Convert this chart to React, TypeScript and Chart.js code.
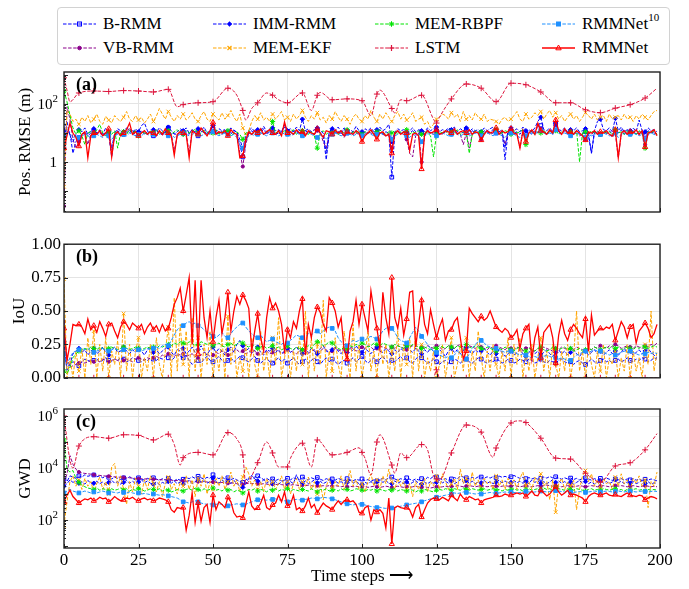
import React, { useEffect, useRef } from 'react';
import { Chart, registerables } from 'chart.js';
Chart.register(...registerables);

const FONT = "'Liberation Serif', 'Times New Roman', Times, serif";

// ---------- Panel (a): Pos. RMSE (m) ----------
const posB_RMM = [
8,15,10,2,5,7,9,11,8,10,
12,9,11,8,10,9,1.5,8,12,10,
9,11,10,13,8,10,12,9,11,10,
8,12,10,9,11,15,9,10,8,12,
10,11,9,13,10,8,11,12,9,10,
14,10,9,12,10,11,9,13,10,4,
1.5,5,10,12,9,11,10,14,9,11,
12,9,10,11,16,10,9,12,11,10,
9,12,10,11,9,13,10,8,1.2,9,
11,10,12,9,14,10,11,9,12,10,
9,11,10,12,9,10,13,9,11,10,
0.3,9,12,10,11,9,10,12,9,11,
10,9,13,10,11,12,9,10,11,13,
10,12,9,11,10,13,9,12,10,11,
9,12,10,11,13,10,9,11,1.2,10,
12,10,11,9,13,10,11,9,12,10,
18,11,10,12,9,20,11,10,12,9,
11,10,12,9,10,11,8,2,10,12,
9,11,10,12,9,11,10,13,9,11,
10,12,9,11,10,9,12,10,11,9];
const posVB_RMM = [
0.03,80,30,6,3,5,9,10,4,9,
11,9,10,8,11,9,2,8,10,9,
11,10,15,9,10,8,11,10,9,12,
10,9,11,8,12,10,9,2.5,8,11,
9,10,2,11,9,10,13,10,9,11,
18,10,11,9,12,9,11,10,8,2,
0.7,4,10,9,11,10,12,9,10,12,
11,9,10,9,20,10,11,9,12,10,
12,9,11,10,9,12,10,5,3,9,
10,11,9,11,7,10,9,11,10,9,
10,9,11,10,9,11,10,9,8,10,
3,9,11,10,9,6,2,1.5,8,10,
1,8,11,10,9,12,10,9,11,10,
9,12,10,9,4,10,3,9,11,10,
6,10,11,9,10,13,10,9,4,10,
12,9,10,3,11,8,10,11,9,18,
14,10,9,12,10,22,11,9,12,10,
11,9,10,8,9,6,10,9,11,10,
9,11,10,9,7,10,1.4,9,11,10,
9,11,10,9,10,4,9,11,10,9];
const posIMM_RMM = [
12,25,8,5,9,13,11,15,9,12,
14,10,13,9,15,11,3,10,14,12,
11,15,12,10,14,11,18,22,12,10,
13,11,15,12,10,16,12,9,11,14,
12,15,10,13,11,14,12,16,10,12,
18,11,14,12,13,10,15,12,11,6,
3,8,12,15,11,13,12,17,11,14,
15,12,13,11,20,12,14,11,16,12,
30,12,14,11,13,15,12,10,2,11,
14,12,16,11,15,12,13,11,17,12,
11,14,12,15,11,13,16,12,14,20,
5,11,14,12,13,11,12,15,11,13,
12,11,15,12,14,16,11,13,12,15,
13,16,11,14,12,15,11,14,12,13,
11,15,12,14,16,12,11,13,3,12,
15,12,14,11,16,12,13,11,15,25,
35,13,12,15,11,22,13,12,15,11,
13,12,15,11,12,14,10,2,12,25,
30,13,12,15,11,32,12,16,11,13,
12,15,11,28,12,11,15,12,13,11];
const posMEM_EKF = [
0.14,60,45,25,30,20,35,25,40,22,
30,45,25,20,38,28,22,40,30,25,
35,55,30,25,40,28,35,22,30,45,
25,38,70,45,30,55,35,25,40,30,
45,28,35,50,30,25,40,55,30,25,
45,35,28,50,30,40,60,35,25,45,
15,8,12,25,40,30,50,28,35,25,
45,30,40,55,28,35,25,45,30,40,
60,35,25,40,30,50,28,35,22,40,
30,55,35,25,40,30,20,35,45,30,
25,40,30,60,35,25,45,30,50,35,
25,40,55,30,45,28,35,50,25,30,
35,20,25,15,20,30,35,45,40,30,
50,35,45,25,55,30,40,28,50,35,
30,45,25,30,28,25,20,30,35,25,
30,40,55,30,25,45,30,35,50,40,
55,30,45,60,35,50,30,40,25,35,
45,30,40,25,35,50,40,30,45,28,
35,40,25,45,30,35,40,28,45,30,
35,25,40,30,45,35,28,40,55,60];
const posMEM_RBPF = [
280,120,40,15,9,12,8,4,10,11,
9,13,20,10,8,11,9,12,3,10,
11,9,13,10,12,8,11,10,9,12,
10,13,9,11,10,12,9,11,13,10,
9,12,10,11,14,9,10,12,11,9,
10,13,9,11,10,12,8,10,11,9,
6,10,12,9,11,10,13,9,11,12,
25,10,11,9,12,10,11,13,9,10,
12,10,9,11,8,3,10,12,9,11,
10,12,9,11,10,13,9,11,10,12,
9,11,10,12,9,11,13,10,9,11,
10,12,9,11,10,13,9,11,10,12,
9,11,10,8,1.5,9,11,10,12,9,
11,10,13,9,11,10,2,9,12,10,
11,9,12,10,11,13,9,10,12,11,
9,12,10,11,13,4,10,12,9,11,
10,13,9,11,10,12,9,11,13,10,
11,9,12,1,10,11,9,12,10,11,
9,12,10,11,9,13,10,11,9,12,
10,11,9,12,10,3,11,10,12,9];
const posLSTM_x = [0,1,2,5,10,15,20,25,30,35,38,40,45,50,55,58,60,61,63,65,68,70,72,75,80,83,85,86,90,95,100,103,105,106,110,111,113,115,120,124,125,126,130,135,140,145,150,155,160,165,170,175,180,185,190,195,199];
const posLSTM_y = [800,300,120,240,280,270,290,280,260,320,80,95,110,120,350,200,60,28,70,110,240,200,140,110,240,60,200,250,140,150,130,40,220,300,70,49,140,130,200,30,22,35,150,490,350,120,520,460,260,110,110,63,50,72,95,160,350];
const posRMMNet10 = [
8,12,9,7,8,7,8,9,8,7,
8,9,8,7,9,8,6,8,9,8,
9,8,10,9,8,9,8,10,9,8,
9,8,9,10,9,8,9,7,8,9,
10,9,8,9,10,9,8,9,10,9,
11,9,8,9,10,9,8,9,7,4,
3,6,8,9,8,9,10,9,8,9,
10,9,8,9,10,9,8,9,10,9,
8,9,10,9,8,7,9,8,6,8,
9,10,9,8,9,10,9,8,9,10,
8,9,10,9,8,9,10,9,8,9,
6,8,9,10,9,8,7,9,8,9,
5,8,9,10,9,8,9,10,9,8,
9,10,9,8,9,10,8,9,10,9,
8,9,10,9,8,10,9,8,7,9,
10,9,8,7,9,8,9,10,9,11,
12,10,9,10,9,13,10,9,10,9,
8,9,10,9,8,7,9,8,9,10,
9,10,9,8,9,10,7,9,10,9,
9,10,9,8,9,6,9,10,9,8];
const posRMMNet = [
3,8,22,10,7,3.5,9,11,1.4,8,
10,9,12,8,10,14,1.5,9,11,8,
10,13,22,9,11,8,10,12,9,11,
10,8,12,9,14,10,8,1.7,9,11,
10,9,1.4,12,10,9,15,11,8,12,
23,9,11,10,12,8,13,10,9,1.4,
1.6,6,11,9,12,10,14,9,11,13,
10,9,12,8,24,10,11,9,13,10,
11,8,12,10,9,14,10,7,12,11,
9,13,10,12,8,11,10,9,12,10,
5,8,10,13,9,6,10,11,8,9,
2,10,12,9,11,10,2.5,9,10,8,
0.57,9,12,10,11,13,9,10,12,11,
10,14,9,11,12,10,13,9,11,10,
5.7,9,12,10,11,15,9,12,10,11,
14,10,9,3,12,5,10,13,9,22,
12,11,9,13,10,28,12,9,14,10,
11,9,12,10,8,5.7,11,10,12,9,
11,10,12,9,8,13,1.4,10,12,9,
11,10,13,9,12,3.3,10,11,13,8];

// ---------- Panel (b): IoU ----------
const iouB_RMM = [
.18,.08,.10,.12,.11,.09,.12,.14,.13,.12,
.13,.14,.12,.13,.15,.13,.12,.14,.13,.15,
.14,.12,.13,.15,.14,.13,.12,.14,.13,.15,
.14,.13,.15,.14,.16,.15,.13,.15,.17,.16,
.15,.17,.13,.10,.12,.13,.11,.14,.16,.13,
.12,.14,.16,.13,.11,.13,.15,.12,.14,.16,
.15,.13,.12,.14,.16,.13,.11,.13,.15,.12,
.11,.13,.15,.12,.14,.11,.13,.15,.12,.10,
.12,.14,.11,.13,.15,.12,.10,.13,.15,.12,
.14,.12,.10,.12,.13,.11,.13,.15,.12,.14,
.16,.13,.11,.13,.15,.12,.14,.16,.13,.11,
.13,.12,.14,.16,.13,.15,.12,.11,.14,.16,
.15,.13,.11,.12,.14,.12,.10,.12,.13,.11,
.12,.14,.13,.11,.13,.14,.12,.11,.13,.15,
.14,.12,.11,.13,.12,.14,.13,.11,.12,.14,
.13,.11,.12,.14,.13,.12,.14,.13,.11,.12,
.14,.12,.11,.13,.12,.11,.13,.14,.12,.11,
.12,.10,.12,.13,.11,.10,.12,.14,.12,.11,
.13,.14,.12,.13,.11,.13,.14,.12,.13,.15,
.13,.12,.14,.13,.15,.14,.12,.13,.15,.14];
const iouVB_RMM = [
.42,.15,.08,.09,.10,.11,.12,.11,.12,.13,
.12,.13,.12,.14,.13,.12,.13,.14,.13,.12,
.13,.14,.13,.12,.14,.15,.14,.13,.15,.14,
.15,.16,.15,.17,.16,.18,.17,.16,.18,.17,
.18,.16,.17,.18,.16,.15,.17,.19,.18,.16,
.17,.19,.18,.20,.19,.17,.18,.20,.21,.19,
.20,.18,.19,.21,.20,.18,.17,.19,.20,.18,
.19,.21,.20,.18,.19,.21,.20,.19,.18,.20,
.21,.19,.18,.20,.21,.19,.20,.22,.21,.19,
.20,.22,.21,.20,.22,.21,.23,.22,.20,.21,
.23,.22,.24,.23,.21,.22,.24,.23,.22,.21,
.23,.22,.24,.23,.22,.21,.23,.24,.22,.21,
.23,.22,.24,.23,.22,.24,.23,.21,.22,.24,
.23,.22,.24,.25,.23,.22,.24,.23,.22,.24,
.23,.22,.21,.23,.22,.24,.23,.22,.21,.23,
.22,.21,.23,.22,.20,.22,.23,.21,.20,.22,
.21,.23,.22,.21,.20,.22,.21,.23,.22,.21,
.22,.21,.23,.22,.21,.20,.22,.21,.23,.22,
.24,.23,.22,.24,.23,.25,.24,.22,.23,.24,
.23,.22,.24,.23,.22,.24,.23,.25,.24,.26];
const iouIMM_RMM = [
.27,.05,.10,.18,.20,.22,.19,.21,.17,.20,
.22,.18,.20,.23,.19,.17,.21,.23,.19,.20,
.23,.20,.18,.21,.19,.22,.20,.17,.21,.23,
.19,.21,.18,.20,.22,.23,.19,.17,.21,.20,
.22,.18,.20,.23,.19,.21,.24,.20,.17,.21,
.23,.19,.22,.20,.17,.21,.23,.19,.25,.28,
.24,.20,.22,.18,.21,.23,.19,.17,.21,.20,
.22,.19,.21,.18,.20,.22,.19,.21,.23,.20,
.18,.21,.19,.22,.20,.18,.22,.24,.20,.19,
.21,.23,.20,.18,.21,.19,.22,.20,.24,.21,
.19,.22,.20,.18,.21,.23,.20,.19,.22,.20,
.18,.21,.19,.22,.20,.24,.21,.19,.22,.20,
.18,.21,.19,.22,.20,.17,.21,.19,.16,.20,
.22,.19,.21,.18,.20,.23,.20,.18,.21,.19,
.20,.22,.19,.17,.20,.18,.21,.19,.16,.18,
.20,.17,.19,.21,.18,.16,.19,.21,.18,.20,
.17,.19,.21,.18,.16,.19,.21,.18,.20,.17,
.19,.21,.18,.16,.19,.20,.17,.19,.21,.18,
.20,.17,.19,.21,.18,.20,.17,.19,.22,.19,
.20,.17,.19,.21,.18,.20,.22,.19,.17,.15];
const iouMEM_EKF = [
.74,0,.15,0,.20,.05,.22,0,.30,.10,
.35,0,.25,.05,.30,0,.20,.10,.28,0,
.48,.05,.25,0,.20,.30,0,.15,.05,.25,
0,.30,.10,0,.20,.38,0,.60,.05,.40,
.10,.35,0,.45,.05,.30,0,.25,.10,.35,
0,.20,.05,.30,0,.46,.10,.30,0,.15,
.05,.25,0,.30,.10,0,.35,.05,.20,0,
.30,.10,.45,0,.15,.25,0,.20,.05,.30,
.10,.50,0,.30,.05,.25,.10,.58,0,.20,
.05,.30,.10,0,.35,.15,0,.40,.05,.25,
0,.15,.35,.05,.20,0,.30,.10,.25,0,
.20,.05,.35,0,.25,.10,.30,0,.35,.05,
.25,0,.15,.05,.20,0,.10,.25,0,.15,
.30,0,.10,.25,.05,.30,0,.20,.05,.35,
.15,0,.20,.05,.25,.10,0,.20,.05,.30,
0,.25,.10,.30,0,.20,.05,.25,0,.15,
.30,.05,.20,0,.25,.10,0,.20,.05,.25,
0,.15,.50,.05,.20,0,.25,.10,0,.20,
.05,.25,0,.15,.10,.20,0,.15,.05,.25,
0,.20,.05,.15,0,.25,.10,.50,.05,.20];
const iouMEM_RBPF = [
.05,.03,.08,.15,.18,.20,.21,.22,.21,.23,
.22,.21,.23,.22,.21,.22,.23,.22,.21,.22,
.23,.22,.21,.22,.23,.22,.21,.22,.23,.22,
.23,.22,.24,.23,.24,.25,.24,.26,.25,.27,
.26,.25,.27,.26,.24,.25,.27,.26,.25,.26,
.24,.25,.26,.24,.23,.25,.26,.24,.25,.27,
.26,.24,.23,.25,.24,.22,.23,.24,.22,.23,
.24,.22,.23,.21,.22,.24,.22,.21,.23,.22,
.21,.23,.24,.22,.25,.27,.26,.24,.25,.27,
.26,.24,.22,.21,.23,.22,.24,.23,.25,.24,
.26,.25,.23,.24,.26,.25,.24,.26,.25,.24,
.23,.25,.24,.23,.22,.24,.23,.25,.24,.23,
.22,.23,.22,.21,.23,.22,.24,.23,.22,.24,
.23,.22,.24,.23,.21,.25,.23,.22,.24,.23,
.22,.21,.23,.22,.21,.20,.22,.21,.23,.22,
.21,.20,.22,.23,.21,.20,.22,.21,.20,.22,
.23,.21,.20,.21,.23,.22,.21,.22,.23,.21,
.22,.20,.21,.22,.20,.21,.22,.21,.23,.22,
.21,.22,.23,.22,.24,.22,.23,.21,.22,.23,
.22,.21,.23,.22,.24,.23,.22,.23,.24,.23];
const iouLSTM_x = [0,5,10,15,20,25,30,35,40,45,50,55,60,65,70,75,80,85,90,95,100,105,110,115,120,124,125,126,130,135,140,145,150,155,160,165,170,175,180,185,190,195,199];
const iouLSTM_y = [0,0,0,0,0,0,0,0,0,0,0,0,0,0,0,0,0,0,0,0,0,0,0,0,0,0,0.06,0,0,0,0,0,0,0,0,0,0,0,0,0,0,0,0];
const iouRMMNet10 = [
.18,.10,.15,.19,.20,.21,.22,.21,.22,.20,
.19,.20,.21,.22,.21,.20,.21,.22,.21,.20,
.21,.22,.21,.20,.22,.21,.20,.21,.22,.21,
.22,.23,.22,.24,.25,.24,.28,.32,.36,.38,
.39,.41,.42,.40,.41,.39,.38,.36,.34,.33,
.31,.30,.32,.34,.31,.30,.33,.36,.38,.40,
.41,.38,.35,.33,.31,.30,.32,.29,.27,.28,
.29,.27,.26,.25,.27,.26,.28,.30,.32,.31,
.30,.31,.33,.32,.34,.35,.33,.35,.37,.38,
.37,.35,.30,.27,.25,.24,.26,.28,.27,.28,
.29,.28,.30,.31,.30,.29,.32,.35,.37,.38,
.37,.34,.30,.28,.27,.26,.30,.34,.38,.35,
.31,.28,.25,.22,.20,.19,.17,.16,.15,.16,
.15,.17,.20,.18,.16,.14,.18,.22,.25,.27,
.28,.26,.24,.23,.22,.22,.21,.20,.19,.20,
.20,.19,.18,.17,.18,.17,.16,.15,.16,.15,
.15,.16,.17,.16,.15,.15,.14,.15,.14,.13,
.13,.15,.17,.18,.19,.20,.19,.20,.21,.20,
.20,.19,.18,.17,.18,.17,.18,.19,.20,.19,
.20,.19,.18,.17,.18,.18,.19,.18,.19,.18];
const iouRMMNet = [
.37,.13,.25,.40,.39,.40,.38,.33,.44,.36,
.39,.34,.42,.37,.31,.40,.41,.35,.30,.38,
.42,.40,.36,.41,.39,.37,.40,.33,.38,.41,
.36,.39,.34,.40,.35,.37,.45,.55,.60,.67,
.50,.62,.75,.25,.73,.18,.73,.45,.30,.50,
.27,.45,.58,.33,.45,.64,.35,.50,.61,.55,
.62,.58,.52,.20,.35,.48,.30,.20,.45,.60,
.52,.56,.50,.40,.20,.36,.30,.42,.37,.50,
.59,.17,.40,.30,.45,.53,.49,.40,.35,.60,
.56,.50,.38,.45,.21,.14,.35,.42,.58,.40,
.55,.45,.35,.65,.50,.37,.22,.64,.45,.33,
.75,.45,.37,.52,.32,.44,.64,.65,.23,.40,
.58,.40,.33,.51,.40,.30,.38,.44,.28,.35,
.36,.42,.45,.30,.14,.20,.52,.48,.45,.42,
.46,.43,.45,.50,.44,.38,.36,.34,.37,.35,
.30,.32,.36,.22,.33,.37,.40,.14,.30,.38,
.15,.34,.37,.40,.30,.11,.32,.43,.33,.28,
.36,.40,.37,.33,.30,.44,.20,.47,.32,.35,
.37,.36,.38,.37,.40,.28,.35,.42,.38,.30,
.38,.40,.26,.35,.38,.41,.37,.30,.33,.40];

// ---------- Panel (c): GWD ----------
const gwdB_RMM = [
4000,3000,5000,4500,4000,5000,4500,5500,4800,5200,
5400,4600,5000,4200,4800,4400,3800,4500,4000,3600,
4200,3800,4600,4000,3500,4200,3800,3400,4000,3600,
4200,3800,3300,3900,3500,4000,3600,3200,3800,3400,
3700,4300,3900,4600,4000,4800,4200,3700,4400,4000,
5500,4400,3900,4500,3800,4200,3600,4000,3500,3000,
2800,3500,4200,3800,4500,5000,4200,3600,4000,3400,
3800,3300,3700,3200,3600,4000,3500,4200,3800,3400,
4500,3900,3500,4200,3800,4300,3700,3300,3900,3500,
3800,3400,4000,3600,3300,3900,3500,3200,3700,3400,
3800,3300,3600,3100,3500,3200,3600,4000,3500,4200,
4500,3800,3400,3900,3500,4200,3700,3300,3800,3500,
3900,3400,4400,3900,4800,4500,4000,3500,3900,3400,
3800,4300,3800,5000,4500,4200,3800,4400,3900,4600,
4500,4000,4600,4100,4700,4300,4900,4400,4800,4300,
4600,5200,4500,4000,4400,3900,4300,3800,4200,3700,
4000,4500,4100,4700,4200,4600,4100,3700,4200,3800,
4100,3600,4000,3500,3900,4200,3800,3400,3900,3500,
4000,3600,4100,3700,3300,3800,3500,3900,3400,3800,
3500,3900,3400,3800,3300,3700,3400,3800,3500,3200];
const gwdVB_RMM = [
2800,6000,30000,14000,9000,7000,6500,6200,6000,5800,
5500,5300,5200,5000,4900,4800,4700,4600,4500,4400,
4300,4200,4200,4100,4000,3900,3900,3800,3800,3700,
3700,3600,3600,3500,3500,3400,3400,3300,3300,3200,
3200,3100,3200,3000,3100,3000,2900,3000,2900,2800,
2900,2800,2700,2800,2700,2600,2700,2600,2500,2400,
2300,2500,2600,2500,2600,2500,2400,2500,2400,2300,
2400,2300,2400,2300,2200,2300,2200,2300,2200,2100,
2200,2100,2200,2100,2000,2100,2000,2100,2000,2100,
2000,2100,2000,1900,2000,1900,2000,1900,2000,1900,
1900,2000,1800,1900,2000,1900,1800,1900,2000,1900,
1800,1900,2000,1900,1800,1900,1800,1900,2000,1900,
1800,1900,1800,1700,1800,1900,1800,1900,2000,1900,
2000,1900,2100,2000,1900,2000,2100,2000,1900,2000,
2100,2000,1900,2000,2100,2000,1900,2000,2100,2000,
2000,2100,2000,1900,2000,2100,2000,1900,2000,2100,
2000,2100,2200,2100,2000,2100,2000,1900,2000,2100,
2000,1900,2000,2100,2000,1900,2000,2100,2000,1900,
2000,2100,2000,1900,2000,2100,2000,2100,2000,1900,
2000,2100,2000,1900,2000,2100,2000,1900,2000,1900];
const gwdIMM_RMM = [
2000,2500,3500,2800,3200,2600,3000,2400,3300,2700,
2600,3100,2500,2900,2300,2800,3400,2600,3000,2400,
2800,3300,2600,3100,2500,2900,3500,2700,3200,2600,
2400,2900,2300,2800,2500,3000,2600,3200,2500,2900,
2400,2800,3300,2500,2900,3500,2800,3200,2600,3000,
4200,3000,2600,3500,2800,3200,2500,3300,2600,2000,
1800,2500,4000,5200,3800,3200,2800,3500,2600,3100,
2500,3000,2400,2900,3400,2600,3000,2500,5500,3000,
2600,3200,2500,2900,3500,2700,3100,2500,2900,3600,
2800,3200,2600,3000,2400,2800,3400,2600,3100,2500,
2300,2800,2500,3000,2400,2900,3500,2800,3300,2600,
2500,3200,2600,3000,2500,2900,2400,2800,3300,2600,
2400,2900,2500,3000,2600,2800,3400,2700,3100,2600,
3000,2500,2900,3600,2800,3200,2600,3100,2500,2900,
2700,3300,2600,3000,2500,2900,3400,2700,3200,2600,
2800,3300,2700,3100,2600,3000,2500,3500,2800,3200,
2600,3000,2500,2900,3600,2800,3200,2600,3000,2500,
2900,2400,2800,3300,2600,3000,2500,2900,2400,2800,
3200,2600,3000,2500,2900,3500,2700,3100,2500,2900,
2600,3000,2500,2800,3300,2600,3000,2400,2700,2500];
const gwdMEM_EKF = [
60,500,3000,5000,2000,3500,1500,4000,2000,3000,
1200,2500,4500,1500,3000,1000,11000,15000,2000,5000,
1500,400,3000,1200,4000,2000,1000,3500,1500,5000,
2500,1200,3000,800,2500,4500,1500,2500,1000,3000,
2000,5000,1500,3500,800,4000,2000,6000,1000,3000,
1500,4000,2000,5000,1500,3000,7000,2000,3500,1200,
4500,11000,6000,2000,3500,1500,3000,1200,4000,2000,
3000,1500,2500,5000,1500,3000,1000,2500,4000,1500,
3000,2000,4500,1500,3000,1000,2500,600,2000,4000,
1500,3000,2000,5000,1500,3000,8000,2000,3500,1500,
2500,1200,3000,6000,2000,3500,1500,5000,2500,9000,
3000,1500,4000,2000,3000,1500,2500,800,3000,1500,
2500,4000,1200,3000,2000,5000,1500,6000,3000,1500,
2500,4000,1500,9000,2500,4000,1500,7000,2000,3500,
1500,4000,2500,3000,1500,5000,2000,3500,1500,4000,
2500,3500,1500,4000,7000,2000,3000,1500,4500,2500,
6000,2000,3000,600,3500,200,2500,4000,1500,3000,
2000,3500,250,1500,5000,8000,3000,6000,2000,3500,
1500,4000,2500,3000,1500,4500,2000,6000,2500,3500,
1500,4000,2500,5000,2000,3500,300,3000,2000,7000];
const gwdMEM_RBPF = [
120000,9000,7000,8000,4000,2800,2200,1900,1700,1600,
1500,1700,1400,1600,1500,1300,1600,1400,1500,1700,
1400,1600,1300,1500,1400,1600,1500,1300,1400,1600,
1500,1400,1600,1300,1500,1400,1200,1300,1500,1400,
1300,1500,1600,1400,1700,1500,1300,1600,1400,1500,
1700,1400,1500,1300,1600,1400,1500,1200,1400,1300,
1100,1300,1500,1400,1600,1300,1500,1400,1200,1500,
1400,1600,1300,1500,1400,1600,1300,1500,1400,1300,
1500,1400,1300,1600,1400,1200,1500,1400,1600,1300,
1400,1500,1300,1600,1400,1500,1300,1400,1600,1500,
1400,1300,1500,1400,1600,1300,1500,1400,1300,1500,
1400,1600,1300,1500,1400,1300,1500,1400,1200,1400,
1300,1500,1400,1300,1200,1400,1500,1400,1600,1500,
1400,1600,1500,1400,1700,1500,1400,1600,1500,1400,
1500,1600,1400,1500,1600,1400,1500,1300,1500,1400,
1500,1600,1400,1500,1300,1500,1600,1400,1500,1600,
1500,1700,1500,1600,1400,1800,1600,1500,1400,1600,
1500,1400,1600,1500,1400,1300,1500,1600,1400,1500,
1400,1600,1500,1400,1500,1600,1400,1500,1300,1500,
1400,1500,1600,1400,1500,1300,1500,1400,1500,1400];
const gwdLSTM_x = [0,2,3,5,10,15,20,25,30,35,37,39,40,45,50,55,58,60,61,65,68,70,72,75,76,80,83,85,90,95,99,100,101,103,105,106,110,111,113,115,120,122,124,125,126,130,135,140,144,145,150,153,155,160,165,170,175,180,185,190,195,199];
const gwdLSTM_y = [1e6,2e4,1e4,7e4,1.6e5,1.4e5,1.9e5,1.8e5,1.2e5,2e5,8e4,1.3e4,2.5e4,4e4,3.2e4,2.3e5,1.3e5,3.2e4,2500,1.6e4,1e5,3.8e4,1.1e4,1.1e4,2.4e4,9e4,1.1e4,1.2e5,3.2e4,4e4,6e4,4e4,2.4e4,5400,1e5,1.9e5,1.3e4,6300,3.8e4,2.5e4,8e4,5e4,5000,3800,3500,3.8e4,4.5e5,2.4e5,2.6e4,5.9e4,5.4e5,6.5e5,5.6e5,1.4e5,2.4e4,2.2e4,6300,2900,1.2e4,1.6e4,5e4,2.1e5];
const gwdRMMNet10 = [
1100,1300,1500,1300,1200,1100,1200,1300,1200,1100,
1200,1100,1200,1300,1200,1100,1200,1150,1100,1200,
1150,1100,1200,1100,1050,1100,1000,1050,1000,950,
1000,950,900,950,900,850,800,750,700,600,
500,480,450,500,550,500,450,420,400,420,
380,400,420,400,380,350,380,400,420,400,
380,400,450,500,550,600,620,600,580,600,
620,650,600,580,550,500,550,600,620,600,
580,620,650,700,680,650,700,750,720,700,
650,600,550,500,450,420,400,380,400,420,
400,380,350,330,320,300,310,290,280,290,
290,300,320,340,360,380,400,420,440,460,
500,550,600,650,700,750,800,850,900,950,
1000,1100,1050,1100,1200,1150,1100,1050,1000,1050,
1000,1050,1100,1150,1100,1050,1100,1150,1200,1150,
1200,1150,1100,1150,1200,1250,1200,1150,1200,1250,
1300,1250,1200,1250,1300,1350,1300,1250,1200,1250,
1200,1150,1200,1250,1200,1150,1200,1250,1300,1250,
1200,1250,1300,1250,1200,1250,1300,1250,1200,1250,
1300,1250,1200,1250,1300,1250,1200,1250,1300,1250];
const gwdRMMNet = [
500,900,1400,800,600,450,550,650,600,700,
550,600,750,650,700,500,600,800,650,550,
600,700,650,750,600,550,650,700,600,650,
550,600,700,650,600,500,250,200,300,280,
300,40,150,1100,80,450,90,300,400,80,
900,250,500,400,300,750,500,190,130,140,
120,400,1200,350,250,290,450,900,300,250,
380,450,900,500,1200,350,400,900,250,300,
220,350,700,300,400,190,300,450,350,300,
250,380,550,400,550,600,500,550,400,200,
180,300,350,100,250,200,250,180,50,700,
12,300,350,300,280,300,250,130,300,400,
130,250,450,600,700,650,600,750,650,550,
900,700,550,1000,700,600,800,700,600,650,
450,600,650,700,750,900,800,850,1000,900,
900,1000,1100,1000,1100,800,1000,1300,900,850,
1400,1100,850,1000,1400,1900,1200,900,1100,1400,
900,1000,900,800,700,500,800,1000,1100,1000,
900,1000,1100,900,850,950,850,800,950,1100,
900,850,800,900,850,600,700,800,750,650];

const X_TICKS = [0, 25, 50, 75, 100, 125, 150, 175, 200];

// plotting order (first = bottom, last = top)
const SERIES = [
  { key: 'B-RMM', color: '#0000ff', dash: [3.5, 1.6], width: 1, pointStyle: 'rect', radius: 2.6, filled: false },
  { key: 'VB-RMM', color: '#8b008b', dash: [3.5, 1.6], width: 1, pointStyle: 'circle', radius: 1.6, filled: true },
  { key: 'IMM-RMM', color: '#0000ff', dash: [3.5, 1.6], width: 1, pointStyle: 'rectRot', radius: 2.2, filled: true },
  { key: 'MEM-EKF', color: '#ffa500', dash: [3.5, 1.6], width: 1, pointStyle: 'crossRot', radius: 2.6, filled: true },
  { key: 'MEM-RBPF', color: '#00e400', dash: [3.5, 1.6], width: 1, pointStyle: 'star', radius: 2.6, filled: true },
  { key: 'LSTM', color: '#dc143c', dash: [3.5, 1.6], width: 1, pointStyle: 'cross', radius: 3, filled: true, smooth: true },
  { key: 'RMMNet10', color: '#1e90ff', dash: [3.5, 1.6], width: 1, pointStyle: 'rect', radius: 2.6, filled: true },
  { key: 'RMMNet', color: '#ff0000', dash: [], width: 1.3, pointStyle: 'triangle', radius: 3, filled: false },
];

const PANELS: any = {
  a: {
    'B-RMM': posB_RMM, 'VB-RMM': posVB_RMM, 'IMM-RMM': posIMM_RMM, 'MEM-EKF': posMEM_EKF,
    'MEM-RBPF': posMEM_RBPF, 'LSTM': [posLSTM_x, posLSTM_y], 'RMMNet10': posRMMNet10, 'RMMNet': posRMMNet,
  },
  b: {
    'B-RMM': iouB_RMM, 'VB-RMM': iouVB_RMM, 'IMM-RMM': iouIMM_RMM, 'MEM-EKF': iouMEM_EKF,
    'MEM-RBPF': iouMEM_RBPF, 'LSTM': [iouLSTM_x, iouLSTM_y], 'RMMNet10': iouRMMNet10, 'RMMNet': iouRMMNet,
  },
  c: {
    'B-RMM': gwdB_RMM, 'VB-RMM': gwdVB_RMM, 'IMM-RMM': gwdIMM_RMM, 'MEM-EKF': gwdMEM_EKF,
    'MEM-RBPF': gwdMEM_RBPF, 'LSTM': [gwdLSTM_x, gwdLSTM_y], 'RMMNet10': gwdRMMNet10, 'RMMNet': gwdRMMNet,
  },
};

function toPoints(d: any) {
  if (Array.isArray(d[0])) {
    const [xs, ys] = d;
    return xs.map((x: number, i: number) => ({ x, y: ys[i] }));
  }
  return d.map((y: number, i: number) => ({ x: i, y }));
}

function buildDatasets(panel: string) {
  return SERIES.map((s, i) => ({
    label: s.key,
    data: toPoints(PANELS[panel][s.key]),
    borderColor: s.color,
    backgroundColor: s.color,
    borderWidth: s.width,
    borderDash: s.dash,
    pointStyle: s.pointStyle,
    pointRadius: (ctx: any) => (ctx.raw && ctx.raw.x % 5 === 0 ? s.radius : 0),
    pointHoverRadius: 0,
    pointBorderColor: s.color,
    pointBackgroundColor: s.filled ? s.color : 'rgba(0,0,0,0)',
    pointBorderWidth: 1,
    tension: 0,
    cubicInterpolationMode: s.smooth ? 'monotone' : 'default',
    fill: false,
    order: SERIES.length - 1 - i,
  }));
}

const framePlugin = {
  id: 'frame',
  afterDraw(chart: any, _args: any, opts: any) {
    const { ctx, chartArea } = chart;
    const { left, top, right, bottom } = chartArea;
    const xs = chart.scales.x;
    const ys = chart.scales.y;
    ctx.save();
    ctx.setLineDash([]);
    ctx.strokeStyle = '#222';
    ctx.lineWidth = 1;
    for (const v of X_TICKS) {
      const px = Math.round(xs.getPixelForValue(v)) + 0.5;
      ctx.beginPath(); ctx.moveTo(px, bottom); ctx.lineTo(px, bottom - 4); ctx.stroke();
    }
    if (opts.log) {
      const lo = Math.floor(Math.log10(ys.min));
      const hi = Math.ceil(Math.log10(ys.max));
      for (let d = lo; d <= hi; d++) {
        for (let k = 1; k <= 9; k++) {
          const v = k * Math.pow(10, d);
          if (v < ys.min || v > ys.max) continue;
          const py = Math.round(ys.getPixelForValue(v)) + 0.5;
          const len = k === 1 ? 4 : 2;
          ctx.beginPath(); ctx.moveTo(left, py); ctx.lineTo(left + len, py); ctx.stroke();
        }
      }
    } else {
      for (const v of [0, 0.25, 0.5, 0.75, 1]) {
        const py = Math.round(ys.getPixelForValue(v)) + 0.5;
        ctx.beginPath(); ctx.moveTo(left, py); ctx.lineTo(left + 4, py); ctx.stroke();
      }
    }
    ctx.lineWidth = 1.4;
    ctx.strokeRect(left, top, right - left, bottom - top);
    ctx.fillStyle = '#000';
    ctx.font = `bold 18px ${FONT}`;
    ctx.textAlign = 'left';
    ctx.textBaseline = 'middle';
    ctx.fillText(opts.label, left + 12, top + 13);
    if (opts.logLabels) {
      const xR = left - 6;
      for (const L of opts.logLabels) {
        const py = ys.getPixelForValue(L.v);
        ctx.textAlign = 'right';
        ctx.textBaseline = 'middle';
        if (L.exp) {
          ctx.font = `11px ${FONT}`;
          const ew = ctx.measureText(L.exp).width;
          ctx.fillText(L.exp, xR, py - 5);
          ctx.font = `15px ${FONT}`;
          ctx.fillText(L.base, xR - ew, py + 1);
        } else {
          ctx.font = `15px ${FONT}`;
          ctx.fillText(L.base, xR - 1, py + 1);
        }
      }
    }
    ctx.restore();
  },
};

const PANEL_CFG: any = {
  a: {
    log: true, min: 0.0189, max: 1268, majors: [1, 100], title: 'Pos. RMSE (m)', titlePad: 15, label: '(a)',
    logLabels: [{ v: 1, base: '1' }, { v: 100, base: '10', exp: '2' }], showX: false,
  },
  b: { log: false, min: 0, max: 1, title: 'IoU', titlePad: 9, label: '(b)', showX: false },
  c: {
    log: true, min: 8.4, max: 1.86e6, majors: [100, 1e4, 1e6], title: 'GWD', titlePad: 15, label: '(c)',
    logLabels: [{ v: 100, base: '10', exp: '2' }, { v: 1e4, base: '10', exp: '4' }, { v: 1e6, base: '10', exp: '6' }],
    showX: true,
  },
};

function makeChart(canvas: HTMLCanvasElement, panel: string) {
  const cfg = PANEL_CFG[panel];
  const gridCfg = { color: '#e4e4e4', lineWidth: 1, drawTicks: false };
  return new Chart(canvas, {
    type: 'line',
    data: { datasets: buildDatasets(panel) as any },
    options: {
      animation: false,
      responsive: false,
      maintainAspectRatio: false,
      parsing: false,
      events: [],
      layout: { padding: { left: 0, right: 29, top: 10, bottom: 0 } },
      plugins: {
        legend: { display: false },
        tooltip: { enabled: false },
        frame: { log: cfg.log, label: cfg.label, logLabels: cfg.logLabels },
      } as any,
      scales: {
        x: {
          type: 'linear',
          min: 0,
          max: 200,
          ticks: {
            stepSize: 25,
            display: cfg.showX,
            autoSkip: false,
            maxRotation: 0,
            padding: 2,
            color: '#000',
            font: { family: FONT, size: 17 },
          },
          grid: gridCfg,
          border: { display: false },
          title: {
            display: cfg.showX,
            text: 'Time steps ⟶',
            color: '#000',
            font: { family: FONT, size: 17 },
            padding: { top: 0, bottom: 2 },
          },
          afterFit: (s: any) => { s.height = cfg.showX ? 41 : 10; },
        },
        y: {
          type: cfg.log ? 'logarithmic' : 'linear',
          min: cfg.min,
          max: cfg.max,
          ticks: {
            display: !cfg.log,
            stepSize: 0.25,
            padding: 3,
            color: '#000',
            font: { family: FONT, size: 17 },
            callback: (v: any) => Number(v).toFixed(2),
          },
          grid: gridCfg,
          border: { display: false },
          title: {
            display: true,
            text: cfg.title,
            color: '#000',
            font: { family: FONT, size: 17 },
            padding: { top: cfg.titlePad, bottom: 0 },
          },
          afterFit: (s: any) => { s.width = 64; },
          afterBuildTicks: cfg.log
            ? (s: any) => { s.ticks = cfg.majors.map((v: number) => ({ value: v })); }
            : undefined,
        },
      } as any,
    },
    plugins: [framePlugin as any],
  });
}

const LEGEND_ITEMS = [
  { key: 'B-RMM', col: 0, row: 0 },
  { key: 'VB-RMM', col: 0, row: 1 },
  { key: 'IMM-RMM', col: 1, row: 0 },
  { key: 'MEM-EKF', col: 1, row: 1 },
  { key: 'MEM-RBPF', col: 2, row: 0 },
  { key: 'LSTM', col: 2, row: 1 },
  { key: 'RMMNet10', col: 3, row: 0 },
  { key: 'RMMNet', col: 3, row: 1 },
];
const COL_X = [63, 213, 375, 542];
const TEXT_X = [103, 253, 415, 582];
const ROW_Y = [24, 48];

function Marker({ s, cx, cy }: any) {
  const c = s.color;
  switch (s.pointStyle) {
    case 'rect':
      return <rect x={cx - 2} y={cy - 2} width={4} height={4} fill={s.filled ? c : 'none'} stroke={c} strokeWidth={1} />;
    case 'circle':
      return <circle cx={cx} cy={cy} r={1.8} fill={c} stroke={c} />;
    case 'rectRot':
      return <polygon points={`${cx},${cy - 2.4} ${cx + 2.4},${cy} ${cx},${cy + 2.4} ${cx - 2.4},${cy}`} fill={c} stroke={c} strokeWidth={0.5} />;
    case 'crossRot':
      return <path d={`M${cx - 2},${cy - 2}L${cx + 2},${cy + 2}M${cx + 2},${cy - 2}L${cx - 2},${cy + 2}`} stroke={c} strokeWidth={1.2} />;
    case 'star':
      return <path d={`M${cx - 2},${cy - 2}L${cx + 2},${cy + 2}M${cx + 2},${cy - 2}L${cx - 2},${cy + 2}M${cx},${cy - 2.8}L${cx},${cy + 2.8}M${cx - 2.8},${cy}L${cx + 2.8},${cy}`} stroke={c} strokeWidth={1} />;
    case 'cross':
      return <path d={`M${cx},${cy - 3}L${cx},${cy + 3}M${cx - 3},${cy}L${cx + 3},${cy}`} stroke={c} strokeWidth={1.2} />;
    case 'triangle':
      return <polygon points={`${cx},${cy - 3} ${cx + 2.7},${cy + 1.8} ${cx - 2.7},${cy + 1.8}`} fill="none" stroke={c} strokeWidth={1} />;
    default:
      return null;
  }
}

function Legend() {
  return (
    <div style={{ position: 'absolute', left: 57, top: 7, width: 611, height: 56, border: '1px solid #d2d2d2', borderRadius: 4, background: '#fff' }}>
      {LEGEND_ITEMS.map((it) => {
        const s: any = SERIES.find((q) => q.key === it.key);
        const y = ROW_Y[it.row] - 7;
        return (
          <React.Fragment key={it.key}>
            <svg width={34} height={14} style={{ position: 'absolute', left: COL_X[it.col] - 58, top: y - 7 - 1 }}>
              <line x1={0} y1={7} x2={33} y2={7} stroke={s.color} strokeWidth={s.width} strokeDasharray={s.dash.length ? s.dash.join(' ') : undefined} />
              <Marker s={s} cx={16.5} cy={7} />
            </svg>
            <div style={{ position: 'absolute', left: TEXT_X[it.col] - 58, top: y - 11 - 1, fontFamily: FONT, fontSize: 17, lineHeight: '22px', color: '#000', whiteSpace: 'nowrap' }}>
              {it.key === 'RMMNet10' ? (
                <span>RMMNet<span style={{ fontSize: 11, position: 'relative', top: -8 }}>10</span></span>
              ) : it.key}
            </div>
          </React.Fragment>
        );
      })}
    </div>
  );
}

export default function App() {
  const refA = useRef<HTMLCanvasElement>(null);
  const refB = useRef<HTMLCanvasElement>(null);
  const refC = useRef<HTMLCanvasElement>(null);
  useEffect(() => {
    const charts = [
      makeChart(refA.current as HTMLCanvasElement, 'a'),
      makeChart(refB.current as HTMLCanvasElement, 'b'),
      makeChart(refC.current as HTMLCanvasElement, 'c'),
    ];
    return () => charts.forEach((c) => c.destroy());
  }, []);
  return (
    <div style={{ position: 'absolute', left: 0, top: 0, width: 689, height: 589, background: '#fff', overflow: 'hidden' }}>
      <Legend />
      <canvas ref={refA} width={689} height={160} style={{ position: 'absolute', left: 0, top: 62 }} />
      <canvas ref={refB} width={689} height={160} style={{ position: 'absolute', left: 0, top: 231 }} />
      <canvas ref={refC} width={689} height={190} style={{ position: 'absolute', left: 0, top: 399 }} />
    </div>
  );
}
